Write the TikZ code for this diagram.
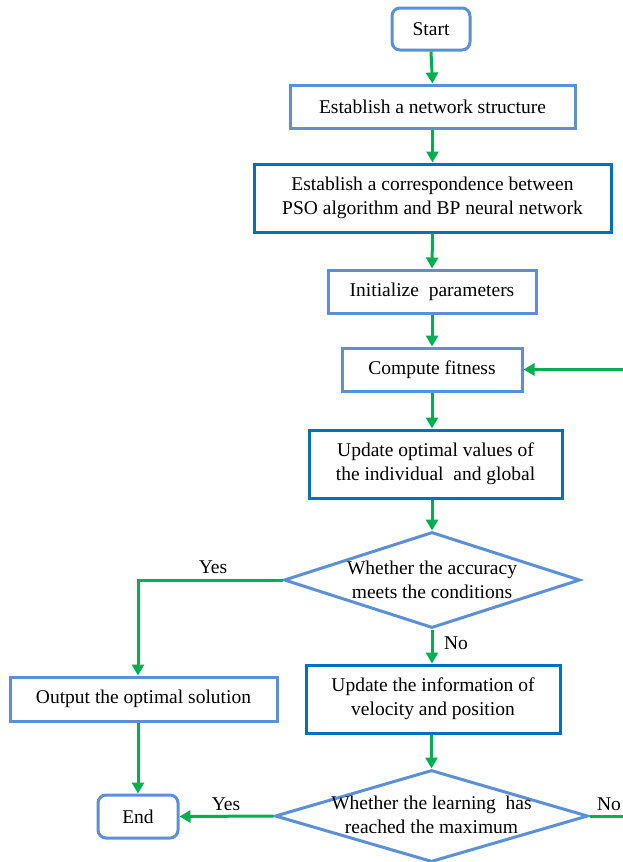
\documentclass[tikz,border=0pt]{standalone}
\usepackage{fontspec}
\setmainfont{Liberation Serif}
\usetikzlibrary{arrows.meta,shapes.geometric}
\definecolor{lblue}{HTML}{5B8FD6}
\definecolor{dblue}{HTML}{0070C0}
\definecolor{grn}{HTML}{00B050}
\tikzset{
  txt/.style={font=\fontsize{19.5}{24}\selectfont, align=center, inner sep=0pt},
  lbox/.style={txt, rectangle, draw=lblue, fill=white, line width=3pt},
  dbox/.style={txt, rectangle, draw=dblue, fill=white, line width=3pt},
  term/.style={lbox, rounded corners=8pt},
  dec/.style={diamond, draw=lblue, fill=white, line width=3pt, inner sep=0pt},
  arr/.style={draw=grn, line width=3pt, -{Triangle[length=11pt,width=12pt]}},
  ln/.style={draw=grn, line width=3pt},
  lab/.style={txt}
}
\begin{document}
\begin{tikzpicture}[x=1pt,y=-1pt]
\useasboundingbox (0,0) rectangle (623,862);
\node[term, minimum width=78pt, minimum height=42pt] (st) at (431,29) {Start};
\node[lbox, minimum width=285pt, minimum height=43pt] (b1) at (432.5,106.5) {Establish a network structure};
\node[dbox, minimum width=357pt, minimum height=68pt] (b2) at (432.5,198) {Establish a correspondence between\\PSO algorithm and BP neural network};
\node[lbox, minimum width=208pt, minimum height=43pt] (b3) at (432,291.5) {Initialize~ parameters};
\node[lbox, minimum width=180pt, minimum height=43pt] (b4) at (432,369.5) {Compute fitness};
\node[dbox, minimum width=253pt, minimum height=68pt] (b5) at (435.5,464) {Update optimal values of\\the individual~ and global};
\node[dec, minimum width=296pt, minimum height=96pt] (d1) at (432,580) {};
\node[txt] (t1) at (d1.center) {Whether the accuracy\\meets the conditions};
\node[lbox, minimum width=267pt, minimum height=44pt] (out) at (143.5,699) {Output the optimal solution};
\node[dbox, minimum width=254pt, minimum height=68pt] (b6) at (433,699) {Update the information of\\velocity and position};
\node[dec, minimum width=313pt, minimum height=92pt] (d2) at (431.5,816) {};
\node[txt] (t2) at ([yshift=1pt]d2.center) {Whether the learning~ has\\reached the maximum};
\node[term, minimum width=80pt, minimum height=43pt] (end) at (138,816.5) {End};

\coordinate (rf) at (623,369.5);
\coordinate (rn) at (623,816);

\draw[arr] (st.south) -- (b1.north);
\draw[arr] (b1.south) -- (b2.north);
\draw[arr] (b2.south) -- (b3.north);
\draw[arr] (b3.south) -- (b4.north);
\draw[arr] (b4.south) -- (b4.south |- b5.north);
\draw[arr] (rf) -- (b4.east);
\draw[arr] (b5.south -| d1.north) -- (d1.north);
\draw[arr] (d1.south) -- (d1.south |- b6.north);
\draw[arr] (d1.west) -| (end.north |- out.north);
\draw[arr] (end.north |- out.south) -- (end.north);
\draw[arr] (b6.south -| d2.north) -- (d2.north);
\draw[arr] (d2.west) -- (end.east);
\draw[ln] (d2.east) -- (rn);

\node[lab] (y1) at (213,567) {Yes};
\node[lab] (n1) at (456,643) {No};
\node[lab] (y2) at (226,804) {Yes};
\node[lab] (n2) at (609,804) {No};
\end{tikzpicture}
\end{document}
